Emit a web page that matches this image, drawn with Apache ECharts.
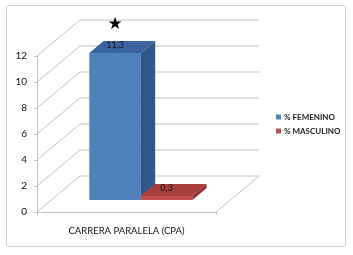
<!DOCTYPE html>
<html>
<head>
<meta charset="utf-8">
<script src="https://cdn.jsdelivr.net/npm/echarts@6/dist/echarts.min.js"></script>
<style>html,body{margin:0;padding:0;background:#fff}#c{width:353px;height:255px}</style>
</head>
<body>
<div id="c"></div>
<script>
const categories = ['CARRERA PARALELA (CPA)'];
const seriesNames = ['% FEMENINO', '% MASCULINO'];
const femenino = [11.3];
const masculino = [0.3];
const annotations = ['★'];
const yTicks = [0, 2, 4, 6, 8, 10, 12];

const FONT = 'Lato, "Liberation Sans", sans-serif';
const DX = 43, DY = -36;        // depth vector of the 3D box
const F0 = 1 / 3, F1 = 2 / 3;   // bar depth range
const BW = 0.288;               // bar width as fraction of band
const faces = [
  { front: '#4F81BD', top: '#3B64A0', side: '#30578A' },
  { front: '#C0504D', top: '#A83F3C', side: '#8C3432' }
];

function fmt(v) { return String(v).replace('.', ','); }

function barRender(si) {
  return function (params, api) {
    const cat = api.value(0), val = api.value(1);
    const top = api.coord([cat, val]);
    const base = api.coord([cat, 0]);
    const bw = api.size([1, 0])[0] * BW;
    const x0 = si === 0 ? top[0] - bw : top[0];
    const fx = DX * F0, fy = DY * F0;
    const dx = DX * (F1 - F0), dy = DY * (F1 - F0);
    const L = x0 + fx, R = L + bw, T = top[1] + fy, B = base[1] + fy;
    const c = faces[si];
    const children = [
      { type: 'rect', shape: { x: L, y: T, width: bw, height: B - T }, style: { fill: c.front } },
      { type: 'polygon', shape: { points: [[R, T], [R + dx, T + dy], [R + dx, B + dy], [R, B]] }, style: { fill: c.side } },
      { type: 'polygon', shape: { points: [[L, T], [R, T], [R + dx, T + dy], [L + dx, T + dy]] }, style: { fill: c.top } },
      { type: 'text', style: { text: fmt(val), x: (L + R) / 2, y: T - 8, align: 'center', verticalAlign: 'middle', font: '9px ' + FONT, fill: '#111' } }
    ];
    if (si === 0 && annotations[params.dataIndex]) {
      children.push({ type: 'text', style: { text: annotations[params.dataIndex], x: (L + R) / 2, y: T - 29, align: 'center', verticalAlign: 'middle', font: '17px "DejaVu Sans", sans-serif', fill: '#000' } });
    }
    return { type: 'group', children };
  };
}

function wallRender(params, api) {
  const cs = params.coordSys;
  const v = api.value(0);
  const p = api.coord([0, v]);
  const left = cs.x, right = cs.x + cs.width, y = p[1];
  const st = { stroke: '#c4c4c4', lineWidth: 1, fill: null };
  const pts = [[left, y], [left + DX, y + DY], [right + DX, y + DY]];
  if (v === 0) pts.push([right, y]);
  return { type: 'polyline', shape: { points: pts }, style: st, silent: true };
}

const chart = echarts.init(document.getElementById('c'), null, { renderer: 'canvas' });
chart.setOption({
  animation: false,
  textStyle: { fontFamily: FONT },
  graphic: [{ type: 'rect', shape: { x: 6.5, y: 5.5, width: 339, height: 241, r: 3 }, style: { fill: null, stroke: '#cccccc', lineWidth: 1 }, z: -10 }],
  grid: { left: 37, top: 56, width: 179, height: 156 },
  legend: {
    orient: 'vertical', left: 276, top: 113, padding: 0, itemGap: 6, itemWidth: 5, itemHeight: 5, icon: 'rect',
    textStyle: { fontSize: 8, fontWeight: 'bold', color: '#222', fontFamily: FONT, padding: [0, 0, 0, -2] },
    data: seriesNames
  },
  xAxis: {
    type: 'category', data: categories,
    axisLine: { show: true, lineStyle: { color: '#c4c4c4' } },
    axisTick: { show: true, length: 3, lineStyle: { color: '#c4c4c4' } },
    axisLabel: { fontSize: 9.5, color: '#111', margin: 14, fontFamily: FONT }
  },
  yAxis: {
    type: 'value', min: 0, max: 12, interval: 2,
    axisLine: { show: true, lineStyle: { color: '#c4c4c4' } },
    axisTick: { show: true, length: 3, lineStyle: { color: '#c4c4c4' } },
    splitLine: { show: false },
    axisLabel: { fontSize: 10, color: '#111', margin: 10, fontFamily: FONT }
  },
  series: [
    { type: 'custom', name: 'walls', data: yTicks.map(v => [v]), encode: { y: 0 }, renderItem: wallRender, z: 1, silent: true, legendHoverLink: false },
    { type: 'custom', name: seriesNames[0], data: femenino.map((v, i) => [i, v]), encode: { x: 0, y: 1 }, renderItem: barRender(0), itemStyle: { color: faces[0].front }, z: 2 },
    { type: 'custom', name: seriesNames[1], data: masculino.map((v, i) => [i, v]), encode: { x: 0, y: 1 }, renderItem: barRender(1), itemStyle: { color: faces[1].front }, z: 3 }
  ]
});
</script>
</body>
</html>
